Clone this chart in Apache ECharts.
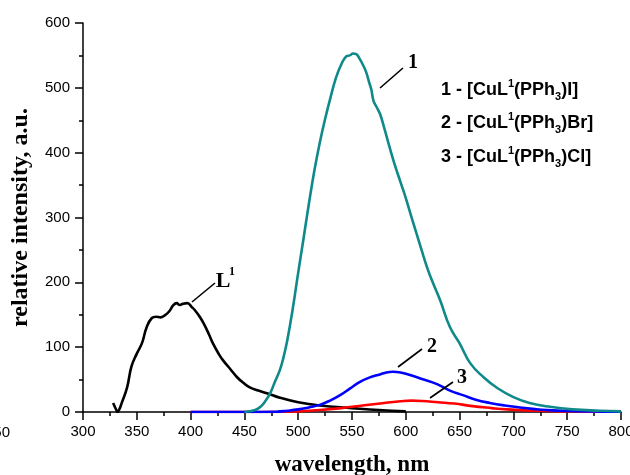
<!DOCTYPE html>
<html>
<head>
<meta charset="utf-8">
<script src="https://cdn.jsdelivr.net/npm/echarts@6/dist/echarts.min.js"></script>
<style>
  html, body { margin: 0; padding: 0; background: #fff; }
  #chart { width: 630px; height: 475px; }
</style>
</head>
<body>
<div id="chart"></div>
<script>
// Emission spectra: free ligand L1 and three Cu complexes
const wlL = [328, 331, 332, 334, 336, 341, 345, 350, 355, 359, 364, 368, 372, 376, 380, 384, 387, 390, 393, 397, 401, 404, 408, 412, 417, 421, 426, 430, 437, 443, 449, 455, 463, 471, 483, 500, 520, 550, 575, 600];
const intL = [14, 3, 0, 5, 14, 38, 70, 90, 107, 130, 145, 147, 146, 149, 155, 165, 168, 165, 167, 168, 162, 157, 148, 137, 120, 105, 90, 80, 66, 54, 45, 38, 33, 29, 22, 15, 10, 6, 3, 1];

const wl1 = [450, 460, 465, 470, 474, 478, 483, 486, 490, 495, 500, 505, 510, 515, 520, 525, 530, 535, 540, 545, 548, 551, 554, 557, 560, 563, 566, 568, 570, 573, 576, 580, 585, 590, 595, 600, 605, 610, 615, 620, 625, 632, 641, 650, 660, 672, 685, 700, 715, 734, 755, 780, 800];
const int1 = [0, 3, 8, 18, 29, 45, 65, 82, 112, 160, 215, 268, 322, 372, 415, 452, 485, 515, 536, 549, 550, 553, 552, 545, 536, 525, 508, 497, 480, 470, 460, 438, 408, 380, 355, 330, 302, 275, 248, 222, 200, 172, 131, 106, 75, 54, 37, 23, 14, 8, 4, 2, 1];

const wl2 = [400, 450, 480, 490, 500, 510, 520, 530, 539, 548, 557, 566, 576, 582, 588, 595, 604, 615, 629, 641, 653, 665, 678, 692, 706, 720, 731, 750, 775, 800];
const int2 = [0, 0, 0.5, 2, 4, 7, 11, 18, 26, 36, 46, 53, 58, 61, 62, 61, 57, 51, 43, 33, 26, 19, 14, 10, 7, 4.5, 3, 1.5, 0.7, 0.3];

const wl3 = [400, 480, 500, 520, 540, 560, 580, 595, 605, 615, 630, 645, 662, 680, 694, 710, 730, 760, 800];
const int3 = [0, 0, 1, 3, 6, 10, 14, 16.5, 17.5, 17, 15, 13, 9, 6, 4, 2.5, 1.5, 0.7, 0.3];

const xTicks = { min: 300, max: 800, step: 50 };
const yTicks = { min: 0, max: 600, step: 100 };

const pairs = (xs, ys) => xs.map((x, i) => [x, ys[i]]);

const chart = echarts.init(document.getElementById('chart'), null, { renderer: 'canvas' });

const tickFont = { fontFamily: 'Liberation Sans, Arial, sans-serif', fontSize: 15, color: '#000' };
const serifBold = 'Liberation Serif, Times New Roman, serif';

function lineSeries(name, data, color) {
  return {
    name, type: 'line', data, showSymbol: false, smooth: 0.45,
    lineStyle: { color, width: 2.6 }, itemStyle: { color },
    animation: false, z: 3
  };
}

const legendRich = {
  b: { fontFamily: 'Liberation Sans, Arial, sans-serif', fontWeight: 'bold', fontSize: 18, color: '#000', lineHeight: 24 },
  sup: { fontFamily: 'Liberation Sans, Arial, sans-serif', fontWeight: 'bold', fontSize: 11, color: '#000', lineHeight: 24, verticalAlign: 'top' },
  sub: { fontFamily: 'Liberation Sans, Arial, sans-serif', fontWeight: 'bold', fontSize: 11, color: '#000', lineHeight: 24, verticalAlign: 'bottom' }
};

function legendLine(num, anion, y) {
  return {
    type: 'text', left: 441, top: y,
    style: {
      text: `{b|${num} - [CuL}{sup|1}{b|(PPh}{sub|3}{b|)${anion}]}`,
      rich: legendRich
    }
  };
}

function callout(x1, y1, x2, y2) {
  return { type: 'line', shape: { x1, y1, x2, y2 }, style: { stroke: '#000', lineWidth: 1.6 }, z: 10 };
}

function tag(text, x, y, size) {
  return {
    type: 'text', x, y,
    style: { text, fontFamily: serifBold, fontWeight: 'bold', fontSize: size, fill: '#000', textAlign: 'center', textVerticalAlign: 'middle' },
    z: 10
  };
}

chart.setOption({
  backgroundColor: '#fff',
  animation: false,
  grid: { left: 83, right: 9, top: 23, bottom: 63, containLabel: false, outerBoundsMode: 'none' },
  xAxis: {
    type: 'value', min: xTicks.min, max: xTicks.max, interval: xTicks.step,
    name: 'wavelength, nm', nameLocation: 'middle', nameGap: 42,
    nameTextStyle: { fontFamily: serifBold, fontWeight: 'bold', fontSize: 23, color: '#000' },
    axisLine: { show: true, onZero: false, lineStyle: { color: '#000', width: 1.5 } },
    axisTick: { show: true, length: 8, lineStyle: { color: '#000', width: 1.5 } },
    minorTick: { show: true, splitNumber: 2, length: 4, lineStyle: { color: '#000', width: 1.5 } },
    axisLabel: Object.assign({ margin: 12 }, tickFont),
    splitLine: { show: false }
  },
  yAxis: {
    type: 'value', min: yTicks.min, max: yTicks.max, interval: yTicks.step,
    name: 'relative intensity, a.u.', nameLocation: 'middle', nameGap: 50, nameRotate: 90,
    nameTextStyle: { fontFamily: serifBold, fontWeight: 'bold', fontSize: 24, color: '#000' },
    axisLine: { show: true, onZero: false, lineStyle: { color: '#000', width: 1.5 } },
    axisTick: { show: true, length: 8, lineStyle: { color: '#000', width: 1.5 } },
    minorTick: { show: true, splitNumber: 2, length: 4, lineStyle: { color: '#000', width: 1.5 } },
    axisLabel: Object.assign({ margin: 13 }, tickFont),
    splitLine: { show: false }
  },
  series: [
    lineSeries('L1', pairs(wlL, intL), '#000000'),
    lineSeries('3', pairs(wl3, int3), '#ff0000'),
    lineSeries('2', pairs(wl2, int2), '#0000ff'),
    lineSeries('1', pairs(wl1, int1), '#10898a')
  ],
  graphic: [
    legendLine(1, 'I', 78),
    legendLine(2, 'Br', 111),
    legendLine(3, 'Cl', 145),
    callout(380, 88, 403, 68), tag('1', 413, 63, 20),
    callout(192, 302, 215, 283), tag('L', 223, 281, 22), tag('1', 232, 272, 12),
    callout(398, 367, 422, 349), tag('2', 432, 347, 20),
    callout(430, 398, 453, 382), tag('3', 462, 378, 20),
    {
      type: 'text', x: 10, y: 433,
      style: { text: '50', fontFamily: 'Liberation Sans, Arial, sans-serif', fontSize: 15, fill: '#000', textAlign: 'right', textVerticalAlign: 'middle' }
    }
  ]
});
</script>
</body>
</html>
